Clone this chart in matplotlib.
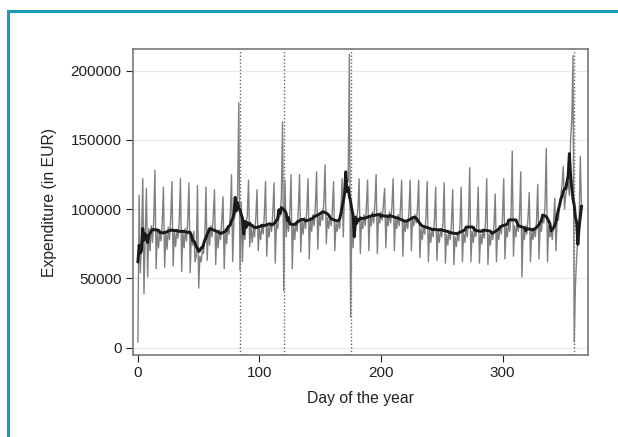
import numpy as np
import pandas as pd
import matplotlib
matplotlib.use("Agg")
import matplotlib.pyplot as plt
from matplotlib.lines import Line2D

plt.rcParams['font.family'] = ['Liberation Sans', 'DejaVu Sans']

# daily expenditure in thousands of EUR, day 0 .. 365 (one row per week)
expenditure_k = [
    4,
    110, 54, 80, 122, 39, 82, 115,
    51, 86, 70, 88, 76, 92, 128,
    57, 84, 72, 85, 77, 90, 116,
    58, 83, 71, 87, 78, 93, 120,
    59, 85, 73, 84, 79, 91, 122,
    55, 84, 72, 86, 77, 92, 119,
    54, 82, 74, 84, 62, 66, 117,
    43, 66, 62, 70, 68, 78, 116,
    63, 86, 74, 88, 80, 95, 114,
    60, 84, 72, 85, 78, 92, 109,
    57, 86, 75, 88, 82, 96, 125,
    62, 92, 96, 100, 108, 177, 56,
    105, 62, 88, 78, 90, 95, 121,
    73, 88, 76, 86, 80, 94, 114,
    70, 86, 78, 88, 82, 95, 120,
    66, 88, 80, 90, 84, 98, 119,
    61, 90, 86, 94, 95, 108, 163,
    41, 121, 80, 92, 84, 98, 125,
    57, 90, 78, 90, 84, 100, 125,
    69, 92, 82, 94, 86, 100, 122,
    64, 94, 84, 96, 88, 102, 127,
    71, 96, 88, 98, 92, 106, 132,
    75, 94, 86, 95, 88, 100, 120,
    70, 90, 84, 92, 86, 98, 122,
    80, 115, 118, 122, 120, 212, 22,
    100, 72, 90, 84, 92, 100, 122,
    68, 92, 86, 96, 88, 102, 121,
    70, 95, 88, 98, 90, 104, 125,
    68, 96, 90, 98, 92, 104, 115,
    72, 96, 88, 98, 90, 102, 122,
    70, 94, 86, 96, 88, 100, 121,
    66, 92, 84, 92, 86, 98, 121,
    70, 94, 88, 96, 90, 100, 121,
    65, 86, 78, 88, 82, 94, 120,
    62, 85, 76, 86, 80, 92, 116,
    63, 84, 76, 85, 80, 90, 119,
    61, 82, 74, 84, 78, 90, 114,
    60, 80, 73, 83, 77, 89, 116,
    62, 83, 76, 86, 80, 92, 130,
    62, 84, 76, 86, 80, 90, 116,
    61, 82, 75, 85, 79, 90, 122,
    60, 82, 74, 84, 78, 89, 111,
    62, 85, 78, 88, 82, 94, 122,
    64, 88, 80, 90, 84, 96, 142,
    66, 88, 80, 90, 84, 96, 127,
    51, 86, 78, 88, 82, 94, 112,
    62, 84, 78, 86, 80, 92, 118,
    64, 90, 84, 94, 90, 104, 144,
    62, 88, 80, 84, 78, 90, 108,
    70, 96, 92, 104, 110, 118, 131,
    100, 110, 115, 120, 110, 150, 165,
    211, 4, 45, 65, 80, 90, 138,
    100,
]
holidays = [84, 120, 175, 359]   # dotted reference lines
yticks = [0, 50000, 100000, 150000, 200000]
xticks = [0, 100, 200, 300]

expenditure = pd.Series(expenditure_k) * 1000
days = np.arange(len(expenditure))
smooth = expenditure.rolling(7, center=True, min_periods=1).mean()

fig = plt.figure(figsize=(6.18, 4.37), dpi=100)
ax = fig.add_axes([0.2147, 0.1876, 0.7361, 0.6995])

for y in yticks:
    ax.axhline(y, color='#e8e8e8', lw=0.8, zorder=0)
for d in holidays:
    ax.axvline(d, color='#666666', lw=1.0, ls=(0, (1, 1.5)), zorder=1)

ax.plot(days, expenditure, color='#808080', lw=1.0, zorder=2)
ax.plot(days, smooth, color='#1a1a1a', lw=2.1, zorder=3)

ax.set_xlim(-4.3, 370)
ax.set_ylim(-5400, 215500)
ax.set_xticks(xticks)
ax.set_yticks(yticks)
ax.tick_params(labelsize=11, colors='#222222', length=5, width=0.8, pad=3)
for s in ax.spines.values():
    s.set_color('#777777')
    s.set_linewidth(1.2)

ax.set_xlabel('Day of the year', fontsize=11.3, color='#222222', labelpad=8)
ax.set_ylabel('Expenditure (in EUR)', fontsize=11.3, color='#222222', labelpad=10)

# blue frame around the figure (open at right and bottom)
blue = '#1b9ab8'
fig.add_artist(Line2D([7.5 / 618, 1.0], [1 - 10.5 / 437] * 2, color=blue, lw=2.2))
fig.add_artist(Line2D([7.5 / 618] * 2, [0.0, 1 - 10.5 / 437], color=blue, lw=2.2))

fig.savefig('out.png', dpi=100)
